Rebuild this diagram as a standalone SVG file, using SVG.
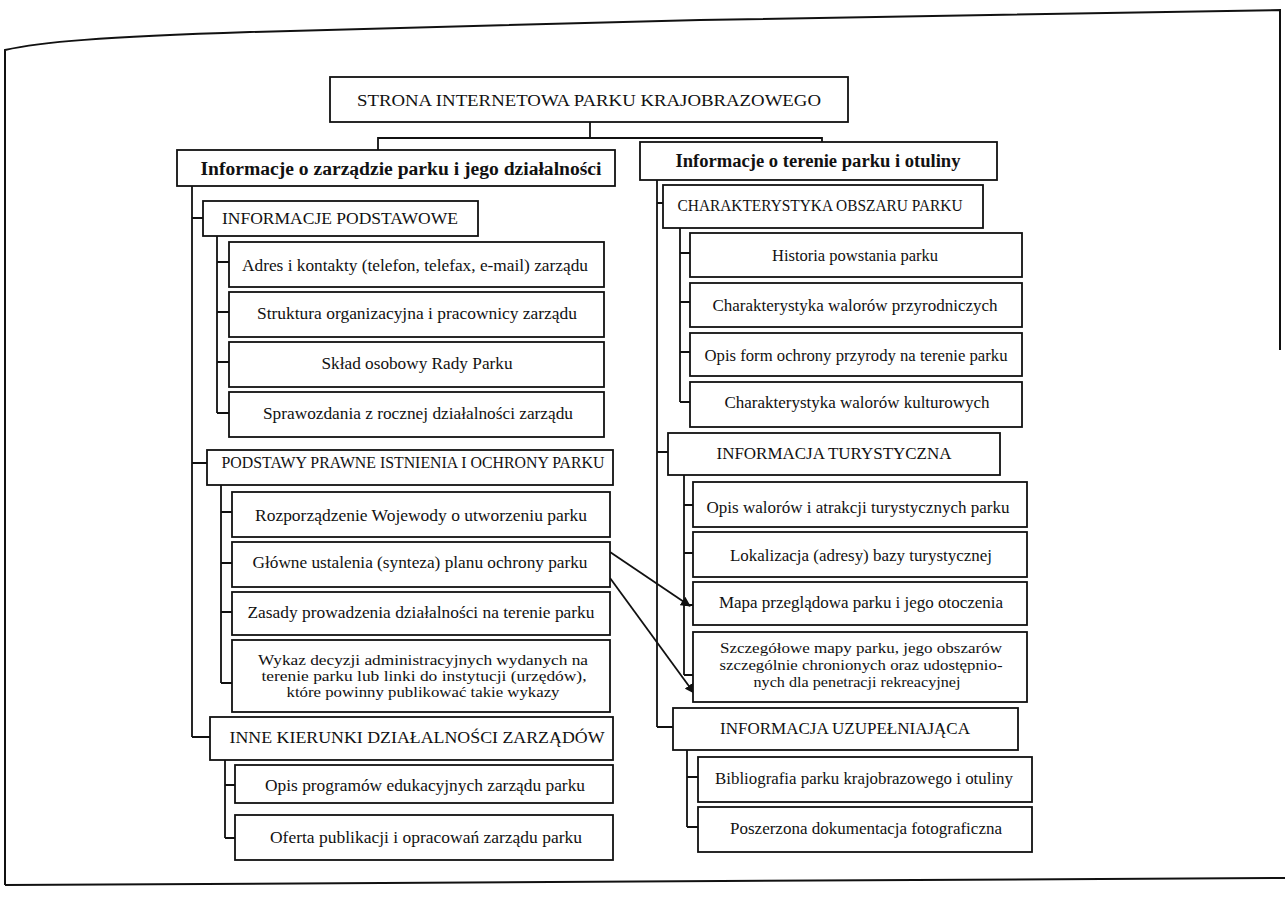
<svg xmlns="http://www.w3.org/2000/svg" width="1285" height="899" viewBox="0 0 1285 899">
<defs>
<style>
.box{fill:#fff;stroke:#111;stroke-width:1.8}
.ln{fill:none;stroke:#111;stroke-width:1.8}
.frame{fill:none;stroke:#111;stroke-width:2}
text{font-family:"Liberation Serif","Times New Roman",serif;fill:#111;text-anchor:middle;dominant-baseline:central}
.t{font-size:16px}
.s{font-size:14.5px}
.h{font-size:17px}
.b{font-size:18px;font-weight:bold}
</style>
<marker id="ah" viewBox="0 0 10 10" refX="9" refY="5" markerWidth="10" markerHeight="10" markerUnits="userSpaceOnUse" orient="auto">
<path d="M0,0 L10,5 L0,10 z" fill="#111"/>
</marker>
</defs>
<rect width="1285" height="899" fill="#fff"/>
<g id="frame">
<path class="frame" d="M5,885 L5,50 C40,42 100,37 250,32 L700,20 L1280,10 L1280,350"/>
<path class="frame" d="M5,885 L1285,878"/>
</g>
<g id="connectors">
<path class="ln" d="M590,122 V138 M378,150 V138 H822 V142"/>
<path class="ln" d="M192,186 V737 M192,218 H203 M192,463 H207 M192,737 H210"/>
<path class="ln" d="M217,236 V413 M217,262 H229 M217,312 H229 M217,362 H229 M217,413 H229"/>
<path class="ln" d="M221,485 V683 M221,512 H232 M221,563 H232 M221,612 H232 M221,683 H232"/>
<path class="ln" d="M225,760 V838 M225,785 H235 M225,838 H235"/>
<path class="ln" d="M657,180 V727 M657,203 H663 M657,452 H668 M657,727 H673"/>
<path class="ln" d="M680,228 V402 M680,253 H690 M680,302 H690 M680,352 H690 M680,402 H690"/>
<path class="ln" d="M684,475 V675 M684,505 H693 M684,553 H693 M684,605 H693 M684,675 H693"/>
<path class="ln" d="M687,750 V827 M687,777 H698 M687,827 H698"/>
<path class="ln" d="M610,552 L690,606" marker-end="url(#ah)"/>
<path class="ln" d="M610,578 L694,693" marker-end="url(#ah)"/>
</g>
<g id="n-root"><rect class="box" x="330" y="77" width="518" height="45"/><text class="h" x="589" y="100" textLength="464" lengthAdjust="spacingAndGlyphs">STRONA INTERNETOWA PARKU KRAJOBRAZOWEGO</text></g>
<g id="n-zarzad"><rect class="box" x="177" y="150" width="438" height="36"/><text class="b" x="401" y="169" textLength="401" lengthAdjust="spacingAndGlyphs">Informacje o zarządzie parku i jego działalności</text></g>
<g id="n-teren"><rect class="box" x="640" y="142" width="357" height="38"/><text class="b" x="818" y="161" textLength="285" lengthAdjust="spacingAndGlyphs">Informacje o terenie parku i otuliny</text></g>

<g id="n-podst"><rect class="box" x="203" y="201" width="275" height="35"/><text class="h" x="340" y="218" textLength="236" lengthAdjust="spacingAndGlyphs">INFORMACJE PODSTAWOWE</text></g>
<g id="n-adres"><rect class="box" x="229" y="242" width="375" height="45"/><text class="t" x="415" y="265" textLength="346" lengthAdjust="spacingAndGlyphs">Adres i kontakty (telefon, telefax, e-mail) zarządu</text></g>
<g id="n-strukt"><rect class="box" x="229" y="292" width="375" height="45"/><text class="t" x="417" y="313" textLength="320" lengthAdjust="spacingAndGlyphs">Struktura organizacyjna i pracownicy zarządu</text></g>
<g id="n-sklad"><rect class="box" x="229" y="342" width="375" height="45"/><text class="t" x="417" y="363" textLength="191" lengthAdjust="spacingAndGlyphs">Skład osobowy Rady Parku</text></g>
<g id="n-spraw"><rect class="box" x="229" y="392" width="375" height="45"/><text class="t" x="418" y="413" textLength="310" lengthAdjust="spacingAndGlyphs">Sprawozdania z rocznej działalności zarządu</text></g>

<g id="n-prawne"><rect class="box" x="207" y="450" width="406" height="35"/><text class="h" x="413" y="462" textLength="383" lengthAdjust="spacingAndGlyphs">PODSTAWY PRAWNE ISTNIENIA I OCHRONY PARKU</text></g>
<g id="n-rozp"><rect class="box" x="232" y="492" width="378" height="45"/><text class="t" x="421" y="515" textLength="332" lengthAdjust="spacingAndGlyphs">Rozporządzenie Wojewody o utworzeniu parku</text></g>
<g id="n-glowne"><rect class="box" x="232" y="542" width="378" height="45"/><text class="t" x="420" y="562" textLength="335" lengthAdjust="spacingAndGlyphs">Główne ustalenia (synteza) planu ochrony parku</text></g>
<g id="n-zasady"><rect class="box" x="232" y="592" width="378" height="43"/><text class="t" x="421" y="612" textLength="347" lengthAdjust="spacingAndGlyphs">Zasady prowadzenia działalności na terenie parku</text></g>
<g id="n-wykaz"><rect class="box" x="232" y="640" width="378" height="72"/>
<text class="s" x="423" y="660" textLength="330" lengthAdjust="spacingAndGlyphs">Wykaz decyzji administracyjnych wydanych na</text>
<text class="s" x="424" y="676" textLength="325" lengthAdjust="spacingAndGlyphs">terenie parku lub linki do instytucji (urzędów),</text>
<text class="s" x="423" y="692" textLength="273" lengthAdjust="spacingAndGlyphs">które powinny publikować takie wykazy</text></g>

<g id="n-inne"><rect class="box" x="210" y="717" width="403" height="43"/><text class="h" x="417" y="737" textLength="375" lengthAdjust="spacingAndGlyphs">INNE KIERUNKI DZIAŁALNOŚCI ZARZĄDÓW</text></g>
<g id="n-edu"><rect class="box" x="235" y="765" width="378" height="38"/><text class="t" x="425" y="785" textLength="320" lengthAdjust="spacingAndGlyphs">Opis programów edukacyjnych zarządu parku</text></g>
<g id="n-oferta"><rect class="box" x="235" y="815" width="378" height="45"/><text class="t" x="426" y="837" textLength="312" lengthAdjust="spacingAndGlyphs">Oferta publikacji i opracowań zarządu parku</text></g>

<g id="n-charakt"><rect class="box" x="663" y="185" width="320" height="43"/><text class="h" x="820" y="205" textLength="285" lengthAdjust="spacingAndGlyphs">CHARAKTERYSTYKA OBSZARU PARKU</text></g>
<g id="n-hist"><rect class="box" x="690" y="233" width="332" height="44"/><text class="t" x="855" y="255" textLength="166" lengthAdjust="spacingAndGlyphs">Historia powstania parku</text></g>
<g id="n-przyr"><rect class="box" x="690" y="283" width="332" height="44"/><text class="t" x="855" y="305" textLength="285" lengthAdjust="spacingAndGlyphs">Charakterystyka walorów przyrodniczych</text></g>
<g id="n-formy"><rect class="box" x="690" y="333" width="332" height="43"/><text class="t" x="856" y="355" textLength="303" lengthAdjust="spacingAndGlyphs">Opis form ochrony przyrody na terenie parku</text></g>
<g id="n-kult"><rect class="box" x="690" y="382" width="332" height="45"/><text class="t" x="857" y="402" textLength="265" lengthAdjust="spacingAndGlyphs">Charakterystyka walorów kulturowych</text></g>

<g id="n-tur"><rect class="box" x="668" y="433" width="332" height="42"/><text class="h" x="834" y="453" textLength="235" lengthAdjust="spacingAndGlyphs">INFORMACJA TURYSTYCZNA</text></g>
<g id="n-walory"><rect class="box" x="693" y="482" width="334" height="45"/><text class="t" x="858" y="507" textLength="303" lengthAdjust="spacingAndGlyphs">Opis walorów i atrakcji turystycznych parku</text></g>
<g id="n-lokal"><rect class="box" x="693" y="532" width="334" height="45"/><text class="t" x="861" y="555" textLength="262" lengthAdjust="spacingAndGlyphs">Lokalizacja (adresy) bazy turystycznej</text></g>
<g id="n-mapa"><rect class="box" x="693" y="582" width="334" height="43"/><text class="t" x="861" y="602" textLength="284" lengthAdjust="spacingAndGlyphs">Mapa przeglądowa parku i jego otoczenia</text></g>
<g id="n-mapy"><rect class="box" x="693" y="632" width="334" height="70"/>
<text class="s" x="861" y="648" textLength="282" lengthAdjust="spacingAndGlyphs">Szczegółowe mapy parku, jego obszarów</text>
<text class="s" x="861" y="665" textLength="283" lengthAdjust="spacingAndGlyphs">szczególnie chronionych oraz udostępnio-</text>
<text class="s" x="857" y="682" textLength="207" lengthAdjust="spacingAndGlyphs">nych dla penetracji rekreacyjnej</text></g>

<g id="n-uzup"><rect class="box" x="673" y="708" width="345" height="42"/><text class="h" x="845" y="728" textLength="250" lengthAdjust="spacingAndGlyphs">INFORMACJA UZUPEŁNIAJĄCA</text></g>
<g id="n-biblio"><rect class="box" x="698" y="757" width="334" height="45"/><text class="t" x="864" y="778" textLength="298" lengthAdjust="spacingAndGlyphs">Bibliografia parku krajobrazowego i otuliny</text></g>
<g id="n-foto"><rect class="box" x="698" y="807" width="334" height="45"/><text class="t" x="866" y="828" textLength="272" lengthAdjust="spacingAndGlyphs">Poszerzona dokumentacja fotograficzna</text></g>
</svg>
